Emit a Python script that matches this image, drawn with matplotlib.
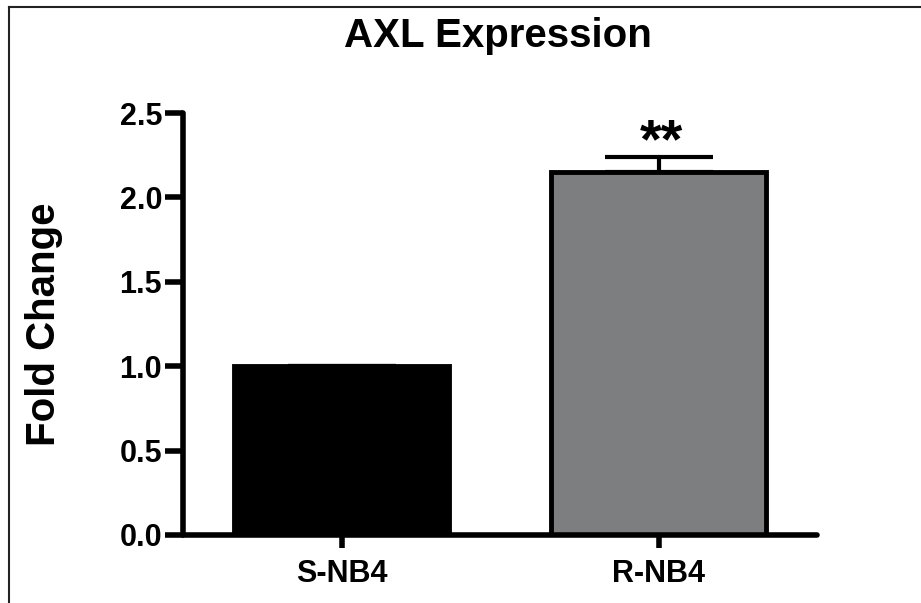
import matplotlib.pyplot as plt
from matplotlib.lines import Line2D

# data
groups = ['S-NB4', 'R-NB4']
fold_change = [1.0, 2.15]
sem = [0.0, 0.09]
bar_colors = ['black', '#7d7e80']

plt.rcParams['font.family'] = ['Liberation Sans', 'DejaVu Sans']
plt.rcParams['font.weight'] = 'bold'

fig = plt.figure(figsize=(9.21, 6.03), dpi=100)
ax = fig.add_axes([0.1987, 0.1128, 0.6884, 0.6998])

x = range(len(groups))
ax.bar(x, fold_change, width=0.68, color=bar_colors, edgecolor='black', linewidth=3.5, zorder=2)
ax.errorbar(x, fold_change, yerr=[[0] * len(sem), sem], fmt='none', ecolor='black',
            elinewidth=3, capsize=39, capthick=3, zorder=1)

# significance stars over the resistant line
ax.text(1.01, fold_change[1] + sem[1] + 0.0, '**', ha='center', va='baseline', fontsize=40, fontweight='bold')

ax.set_xlim(-0.5, 1.5)
ax.set_ylim(0, 2.5)
ax.set_yticks([0.0, 0.5, 1.0, 1.5, 2.0, 2.5])
ax.set_yticklabels(['0.0', '0.5', '1.0', '1.5', '2.0', '2.5'])
ax.set_xticks(list(x))
ax.set_xticklabels(groups)

for side in ['top', 'right']:
    ax.spines[side].set_visible(False)
for side in ['left', 'bottom']:
    ax.spines[side].set_linewidth(4)
    ax.spines[side].set_capstyle('round')

ax.tick_params(axis='y', length=13, width=4, labelsize=22, pad=2)
ax.tick_params(axis='x', length=9, width=4, labelsize=22, pad=8)
for lab in ax.get_xticklabels() + ax.get_yticklabels():
    lab.set_fontweight('bold')

ax.set_ylabel('Fold Change', fontsize=29, fontweight='bold', labelpad=41)
fig.text(498 / 921, 1 - 36 / 603, 'AXL Expression', ha='center', va='center', fontsize=29, fontweight='bold')

# the frame only shows on the left and top in the source image
fig.add_artist(Line2D([9 / 921, 9 / 921], [0, 1 - 7 / 603], color='#222222', linewidth=1.5))
fig.add_artist(Line2D([9 / 921, 1], [1 - 7 / 603, 1 - 7 / 603], color='#222222', linewidth=1.5))

fig.savefig('out.png', dpi=100)
